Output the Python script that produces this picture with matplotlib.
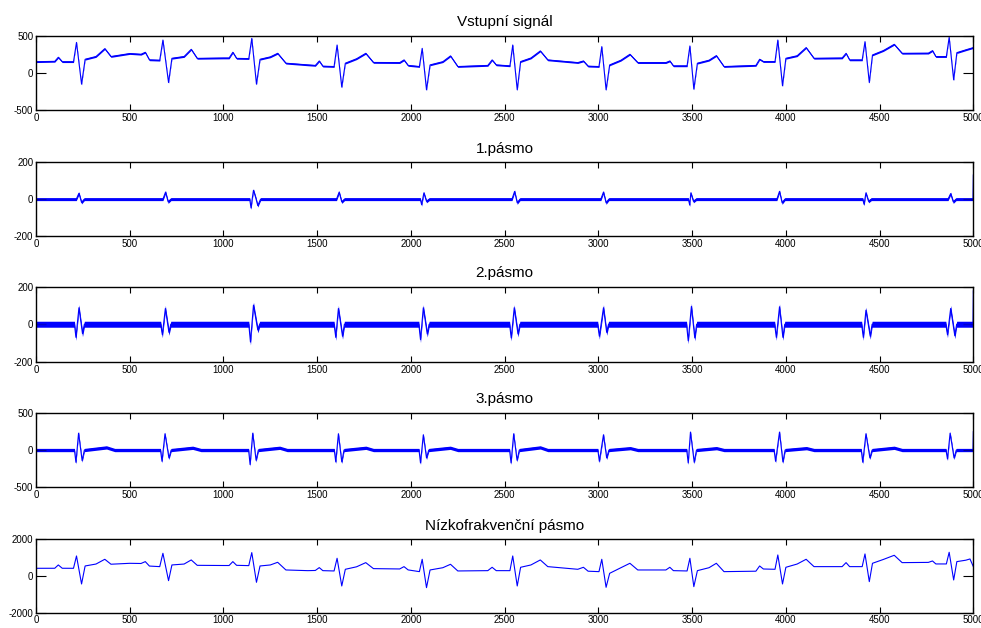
import numpy as np
import matplotlib.pyplot as plt

plt.rcParams['font.family'] = ['Liberation Sans', 'DejaVu Sans']
plt.rcParams['axes.unicode_minus'] = False

# --- values (sample index, amplitude) ---
# input signal
t_in = [0, 100, 119, 140, 200, 216, 243, 262, 320, 367, 400, 500, 560, 583, 605, 660,
        677, 707, 725, 790, 828, 860, 1000, 1030, 1050, 1070, 1135, 1151, 1176, 1195,
        1250, 1289, 1333, 1450, 1490, 1511, 1530, 1590, 1606, 1631, 1650, 1710, 1759,
        1800, 1940, 1963, 1985, 2045, 2060, 2083, 2102, 2170, 2211, 2250, 2410, 2433,
        2455, 2528, 2543, 2567, 2585, 2640, 2690, 2730, 2890, 2920, 2945, 3003, 3018,
        3041, 3060, 3120, 3168, 3210, 3360, 3381, 3400, 3473, 3488, 3509, 3528, 3590,
        3629, 3670, 3840, 3860, 3880, 3942, 3957, 3982, 4000, 4060, 4108, 4150, 4300,
        4321, 4340, 4407, 4422, 4445, 4462, 4520, 4578, 4620, 4760, 4782, 4800, 4856,
        4871, 4895, 4912, 4960, 5000]
v_in = [150, 155, 210, 150, 150, 410, -152, 183, 220, 326, 220, 260, 250, 277, 175, 170,
        442, -130, 196, 220, 317, 195, 200, 200, 277, 195, 192, 464, -152, 183,
        215, 263, 130, 107, 100, 160, 90, 85, 375, -192, 130, 190, 263,
        140, 138, 174, 100, 85, 330, -228, 107, 150, 228, 85, 100, 174,
        107, 94, 375, -228, 152, 200, 295, 174, 138, 160, 90, 85, 353,
        -228, 107, 170, 250, 138, 138, 160, 94, 94, 362, -219, 130, 170,
        232, 85, 100, 183, 152, 152, 442, -174, 196, 230, 340, 196, 200,
        263, 174, 174, 420, -130, 241, 300, 384, 263, 265, 299, 219, 219,
        478, -94, 272, 310, 340]

# band 1
t_b1 = [0, 215, 229, 243, 258, 677, 691, 705, 720, 1140, 1147, 1153, 1160, 1172, 1183,
        1198, 1603, 1617, 1631, 1646, 2050, 2057, 2069, 2083, 2098, 2539, 2553, 2567,
        2582, 3013, 3027, 3041, 3056, 3480, 3487, 3493, 3507, 3522, 3952, 3966, 3980,
        3995, 4410, 4417, 4427, 4441, 4456, 4865, 4879, 4893, 4908, 4998, 5000]
v_b1 = [0, 0, 32, -18, 0, 0, 38, -15, 0, 0, -48, 0, 48, 8, -35,
        0, 0, 38, -15, 0, 0, -30, 34, -12, 0, 0, 42, -20,
        0, 0, 38, -20, 0, 0, -32, 34, -12, 0, 0, 42, -20,
        0, 0, -28, 34, -12, 0, 0, 30, -15, 0, 0, 131]

# band 2
t_b2 = [0, 205, 213, 229, 248, 258, 665, 674, 690, 709, 719, 1135, 1144, 1160, 1183,
        1193, 1590, 1599, 1613, 1635, 1645, 2042, 2051, 2066, 2087, 2097, 2526, 2535,
        2551, 2571, 2581, 2996, 3005, 3027, 3044, 3054, 3470, 3479, 3496, 3514, 3524,
        3940, 3949, 3966, 3984, 3994, 4404, 4413, 4427, 4450, 4460, 4853, 4862, 4879,
        4901, 4911, 4998, 5000]
v_b2 = [0, 0, -70, 88, -50, 0, 0, -56, 84, -43, 0, 0, -95, 102, -30,
        0, 0, -70, 84, -64, 0, 0, -82, 88, -52, 0, 0, -73,
        88, -52, 0, 0, -64, 88, -43, 0, 0, -88, 95, -73, 0,
        0, -70, 93, -70, 0, 0, -70, 75, -64, 0, 0, -56, 84,
        -61, 0, 0, 178]

# band 3
t_b3 = [0, 205, 213, 227, 246, 258, 376, 420, 664, 672, 688, 709, 721, 836, 880,
        1134, 1142, 1156, 1174, 1186, 1300, 1340, 1591, 1599, 1613, 1631, 1643, 1760,
        1800, 2043, 2051, 2066, 2083, 2095, 2210, 2250, 2526, 2534, 2548, 2566, 2578,
        2690, 2730, 2997, 3005, 3027, 3044, 3056, 3170, 3210, 3471, 3479, 3491, 3511,
        3523, 3630, 3670, 3937, 3945, 3966, 3984, 3996, 4110, 4150, 4402, 4410, 4427,
        4448, 4460, 4578, 4620, 4854, 4862, 4876, 4897, 4909, 4998, 5000]
v_b3 = [0, 0, -165, 226, -142, 0, 35, 0, 0, -151, 218, -106, 0, 30, 0,
        0, -195, 226, -137, 0, 30, 0, 0, -160, 218, -160, 0, 30,
        0, 0, -173, 204, -106, 0, 30, 0, 0, -173, 218, -137, 0,
        35, 0, 0, -151, 204, -106, 0, 25, 0, 0, -173, 240, -164,
        0, 25, 0, 0, -151, 240, -160, 0, 25, 0, 0, -164, 218,
        -106, 0, 30, 0, 0, -120, 226, -106, 0, 0, 246]

# low-frequency band
t_lo = [0, 100, 119, 140, 200, 216, 243, 262, 320, 367, 400, 500, 560, 583, 605, 660,
        677, 707, 725, 790, 828, 860, 1000, 1030, 1050, 1070, 1135, 1151, 1176, 1195,
        1250, 1289, 1333, 1450, 1490, 1511, 1530, 1590, 1606, 1631, 1650, 1710, 1759,
        1800, 1940, 1963, 1985, 2045, 2060, 2083, 2102, 2170, 2211, 2250, 2410, 2433,
        2455, 2528, 2543, 2567, 2585, 2640, 2690, 2730, 2890, 2920, 2945, 3003, 3018,
        3041, 3060, 3120, 3168, 3210, 3360, 3381, 3400, 3473, 3488, 3509, 3528, 3590,
        3629, 3670, 3840, 3860, 3880, 3942, 3957, 3982, 4000, 4060, 4108, 4150, 4300,
        4321, 4340, 4407, 4422, 4445, 4462, 4520, 4578, 4620, 4760, 4782, 4800, 4856,
        4871, 4895, 4912, 4960, 4982, 5000]
v_lo = [418, 420, 600, 420, 418, 1090, -436, 545, 650, 909, 640, 690, 680, 782, 540, 509,
        1236, -255, 600, 650, 873, 580, 570, 570, 782, 580, 564, 1273, -345, 545,
        600, 745, 327, 290, 300, 455, 290, 273, 964, -545, 364, 500, 727,
        400, 382, 509, 330, 236, 909, -636, 327, 450, 636, 273, 290, 473,
        290, 290, 1090, -545, 473, 600, 873, 509, 364, 473, 260, 236, 909,
        -618, 145, 450, 691, 327, 327, 473, 290, 273, 964, -582, 290, 450,
        691, 236, 260, 545, 380, 364, 1145, -436, 473, 650, 909, 509, 509,
        727, 509, 509, 1200, -309, 691, 900, 1127, 727, 740, 818, 655, 655,
        1291, -218, 782, 860, 927, 509]

titles = ['Vstupní signál', '1.pásmo', '2.pásmo', '3.pásmo', 'Nízkofrakvenční pásmo']
ylims = [500, 200, 200, 500, 2000]
noise_hw = [11, 8, 16, 22, 0]  # half thickness of the noisy band
series = [(t_in, v_in), (t_b1, v_b1), (t_b2, v_b2), (t_b3, v_b3), (t_lo, v_lo)]

fig = plt.figure(figsize=(9.81, 6.28), dpi=100)
bottoms = [0.8248, 0.6242, 0.4240, 0.2240, 0.0244]
heights = [0.1183, 0.1174, 0.1194, 0.1188, 0.1169]

for i in range(5):
    ax = fig.add_axes([0.0367, bottoms[i], 0.9555, heights[i]])
    t = np.array(series[i][0])
    v = np.array(series[i][1])
    if noise_hw[i] > 0:
        ax.fill_between(t, v - noise_hw[i], v + noise_hw[i], color='blue', lw=0)
    ax.plot(t, v, color='blue', lw=0.8)
    ax.set_xlim(0, 5000)
    ax.set_ylim(-ylims[i], ylims[i])
    ax.set_xticks(np.arange(0, 5001, 500))
    ax.set_yticks([-ylims[i], 0, ylims[i]])
    ax.tick_params(axis='x', direction='in', top=True, length=4, width=0.8,
                   labelsize=7, pad=2)
    ax.tick_params(axis='y', direction='in', right=True, length=7.5, width=0.8,
                   labelsize=7, pad=2)
    for s in ax.spines.values():
        s.set_linewidth(1.0)
    ax.set_title(titles[i], fontsize=11, pad=7)

plt.savefig('out.png', dpi=100)
